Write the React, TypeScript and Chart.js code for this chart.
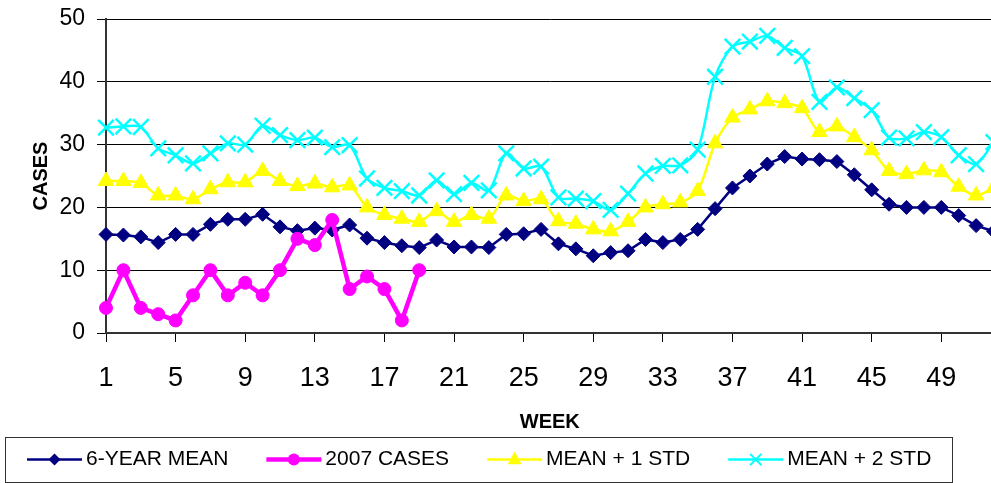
import React, { useEffect, useRef } from 'react';
import { Chart, registerables } from 'chart.js';

Chart.register(...registerables);

const WEEKS = [
  1, 2, 3, 4, 5, 6, 7, 8, 9, 10, 11, 12, 13, 14, 15, 16, 17, 18, 19, 20, 21, 22, 23, 24, 25, 26,
  27, 28, 29, 30, 31, 32, 33, 34, 35, 36, 37, 38, 39, 40, 41, 42, 43, 44, 45, 46, 47, 48, 49, 50, 51, 52,
];
const TICK_WEEKS = [1, 5, 9, 13, 17, 21, 25, 29, 33, 37, 41, 45, 49];

const MEAN_6YR = [
  15.7, 15.6, 15.3, 14.4, 15.7, 15.7, 17.3, 18.1, 18.1, 18.9,
  16.9, 16.3, 16.7, 16.4, 17.2, 15.1, 14.4, 13.9, 13.6, 14.8,
  13.7, 13.7, 13.6, 15.7, 15.8, 16.5, 14.2, 13.4, 12.3, 12.8,
  13.1, 14.9, 14.4, 14.9, 16.5, 19.8, 23.1, 25.0, 26.9, 28.1,
  27.7, 27.6, 27.3, 25.2, 22.8, 20.5, 20.0, 20.0, 20.0, 18.7,
  17.1, 16.2,
];
const CASES_2007 = [4, 10, 4, 3, 2, 6, 10, 6, 8, 6, 10, 15, 14, 18, 7, 9, 7, 2, 10];
const MEAN_PLUS_1SD = [
  24.2, 24.2, 23.9, 21.9, 21.9, 21.3, 22.9, 24.0, 24.0, 25.8,
  24.2, 23.4, 23.8, 23.2, 23.5, 20.0, 18.8, 18.2, 17.7, 19.4,
  17.7, 18.8, 18.2, 21.9, 21.0, 21.3, 17.8, 17.4, 16.5, 16.2,
  17.7, 20.0, 20.5, 20.8, 22.6, 30.2, 34.3, 35.6, 36.9, 36.6,
  35.8, 32.0, 32.9, 31.2, 29.1, 25.8, 25.3, 25.9, 25.6, 23.3,
  21.9, 23.1,
];
const MEAN_PLUS_2SD = [
  32.7, 32.9, 32.8, 29.4, 28.3, 27.0, 28.6, 30.2, 30.0, 33.0,
  31.5, 30.7, 31.1, 29.6, 29.9, 24.6, 23.1, 22.6, 21.9, 24.3,
  22.1, 23.9, 22.7, 28.6, 26.2, 26.5, 21.6, 21.4, 21.0, 19.6,
  22.2, 25.4, 26.6, 26.7, 29.2, 40.8, 45.6, 46.4, 47.3, 45.4,
  44.1, 36.8, 39.1, 37.4, 35.5, 31.1, 31.0, 32.0, 31.2, 28.3,
  26.9, 30.4,
];
const SERIES_LABELS = ['6-YEAR MEAN', '2007 CASES', 'MEAN + 1 STD', 'MEAN + 2 STD'];

const FONT = "'Liberation Sans', Arial, Helvetica, sans-serif";

function drawMarker(ctx: CanvasRenderingContext2D, style: string, cx: number, cy: number, r: number, color: string) {
  ctx.save();
  ctx.fillStyle = color;
  ctx.strokeStyle = color;
  ctx.beginPath();
  if (style === 'rectRot') {
    ctx.moveTo(cx, cy - r);
    ctx.lineTo(cx + r, cy);
    ctx.lineTo(cx, cy + r);
    ctx.lineTo(cx - r, cy);
    ctx.closePath();
    ctx.fill();
  } else if (style === 'circle') {
    ctx.arc(cx, cy, r, 0, Math.PI * 2);
    ctx.fill();
  } else if (style === 'triangle') {
    ctx.moveTo(cx, cy - r);
    ctx.lineTo(cx + r * 0.87, cy + r * 0.6);
    ctx.lineTo(cx - r * 0.87, cy + r * 0.6);
    ctx.closePath();
    ctx.fill();
  } else if (style === 'crossRot') {
    const d = r * 0.707;
    ctx.lineWidth = 2;
    ctx.moveTo(cx - d, cy - d);
    ctx.lineTo(cx + d, cy + d);
    ctx.moveTo(cx + d, cy - d);
    ctx.lineTo(cx - d, cy + d);
    ctx.stroke();
  }
  ctx.restore();
}

const boxLegendPlugin = {
  id: 'boxLegend',
  afterDraw(chart: any) {
    const ctx: CanvasRenderingContext2D = chart.ctx;
    const boxL = 5.5;
    const boxT = 437.5;
    const boxR = 952.5;
    const boxB = 482.5;
    const cy = 459.5;
    ctx.save();
    ctx.strokeStyle = '#333';
    ctx.lineWidth = 1;
    ctx.strokeRect(boxL, boxT, boxR - boxL, boxB - boxT);
    ctx.font = `21px ${FONT}`;
    ctx.textBaseline = 'middle';
    ctx.textAlign = 'left';
    let x = boxL + 21.5;
    const lineLen = 55;
    chart.data.datasets.forEach((ds: any) => {
      ctx.save();
      ctx.strokeStyle = ds.borderColor;
      ctx.lineWidth = ds.borderWidth;
      ctx.beginPath();
      ctx.moveTo(x, cy);
      ctx.lineTo(x + lineLen, cy);
      ctx.stroke();
      ctx.restore();
      drawMarker(ctx, ds.pointStyle, x + lineLen / 2, cy, ds.legendRadius, ds.borderColor);
      ctx.fillStyle = '#000';
      const tx = x + lineLen + 4;
      ctx.fillText(ds.label, tx, cy);
      x = tx + ctx.measureText(ds.label).width + 38;
    });
    ctx.restore();
  },
};

export default function App() {
  const ref = useRef<HTMLCanvasElement | null>(null);

  useEffect(() => {
    if (!ref.current) return;
    const chart = new Chart(ref.current, {
      type: 'line',
      data: {
        labels: WEEKS.map(String),
        datasets: [
          {
            label: SERIES_LABELS[0],
            data: MEAN_6YR,
            borderColor: '#000080',
            backgroundColor: '#000080',
            borderWidth: 2.5,
            pointStyle: 'rectRot',
            pointRadius: 7,
            pointBorderWidth: 1,
            tension: 0,
            order: 3,
            clip: false,
            legendRadius: 6,
          } as any,
          {
            label: SERIES_LABELS[1],
            data: CASES_2007,
            borderColor: '#FF00FF',
            backgroundColor: '#FF00FF',
            borderWidth: 4.5,
            pointStyle: 'circle',
            pointRadius: 6.5,
            pointBorderWidth: 1,
            tension: 0,
            order: 2,
            clip: false,
            legendRadius: 6,
          } as any,
          {
            label: SERIES_LABELS[2],
            data: MEAN_PLUS_1SD,
            borderColor: '#FFFF00',
            backgroundColor: '#FFFF00',
            borderWidth: 2.5,
            pointStyle: 'triangle',
            pointRadius: 9,
            pointBorderWidth: 1,
            tension: 0.3,
            order: 1,
            clip: false,
            legendRadius: 8,
          } as any,
          {
            label: SERIES_LABELS[3],
            data: MEAN_PLUS_2SD,
            borderColor: '#00FFFF',
            backgroundColor: '#00FFFF',
            borderWidth: 2.5,
            pointStyle: 'crossRot',
            pointRadius: 11,
            pointBorderWidth: 2.5,
            tension: 0.3,
            order: 0,
            clip: false,
            legendRadius: 8,
          } as any,
        ],
      },
      options: {
        responsive: false,
        devicePixelRatio: 1,
        animation: false,
        events: [],
        layout: { padding: { left: 25, right: 6, top: 19, bottom: 45 } },
        plugins: {
          legend: { display: false },
          tooltip: { enabled: false },
          title: { display: false },
        },
        scales: {
          x: {
            type: 'category',
            offset: false,
            afterFit: (scale: any) => {
              scale.height = 105;
              scale.paddingLeft = 0;
              scale.paddingRight = 0;
            },
            border: { display: true, color: '#333', width: 2 },
            grid: {
              drawOnChartArea: false,
              drawTicks: true,
              tickLength: 9,
              lineWidth: 1,
              color: (c: any) => (TICK_WEEKS.includes(WEEKS[c.index]) ? '#000' : 'rgba(0,0,0,0)'),
              tickColor: (c: any) => (TICK_WEEKS.includes(WEEKS[c.index]) ? '#000' : 'rgba(0,0,0,0)'),
            },
            ticks: {
              autoSkip: false,
              maxRotation: 0,
              minRotation: 0,
              padding: 20,
              color: '#000',
              font: { family: FONT, size: 27 },
              callback: (_v: any, i: number) => (TICK_WEEKS.includes(WEEKS[i]) ? String(WEEKS[i]) : ''),
            },
            title: {
              display: true,
              text: 'WEEK',
              color: '#000',
              font: { family: FONT, size: 20, weight: 'bold' },
              padding: { top: 4, bottom: 4 },
            },
          },
          y: {
            min: 0,
            max: 50,
            afterFit: (scale: any) => {
              scale.width = 81;
              scale.paddingTop = 0;
              scale.paddingBottom = 0;
            },
            border: { display: true, color: '#333', width: 2 },
            grid: {
              color: '#000',
              lineWidth: 1,
              drawTicks: true,
              tickLength: 9,
              tickColor: '#000',
            },
            ticks: {
              stepSize: 10,
              padding: 12,
              color: '#000',
              font: { family: FONT, size: 23 },
            },
            title: {
              display: true,
              text: 'CASES',
              color: '#000',
              font: { family: FONT, size: 20, weight: 'bold' },
              padding: { top: 4, bottom: 4 },
            },
          },
        },
      } as any,
      plugins: [boxLegendPlugin],
    });
    return () => chart.destroy();
  }, []);

  return (
    <div
      style={{
        position: 'fixed',
        left: 0,
        top: 0,
        width: 991,
        height: 483,
        overflow: 'hidden',
        background: '#fff',
      }}
    >
      <canvas ref={ref} width={1007} height={483} style={{ display: 'block', width: 1007, height: 483 }} />
    </div>
  );
}
